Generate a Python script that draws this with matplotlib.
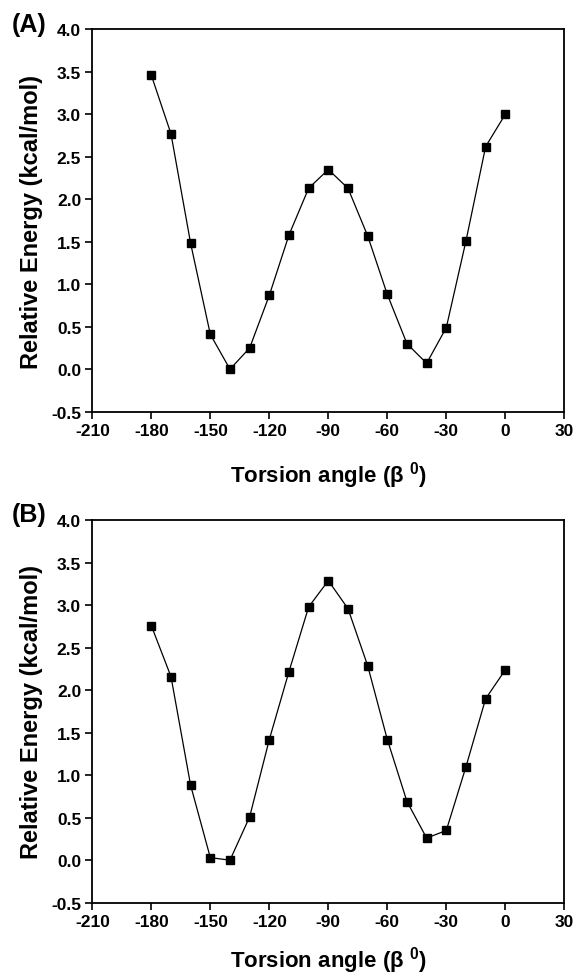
import numpy as np
import matplotlib
matplotlib.use('Agg')
from matplotlib import pyplot as plt

plt.rcParams['font.family'] = ['Liberation Sans', 'DejaVu Sans']
plt.rcParams['font.weight'] = 'bold'
plt.rcParams['mathtext.fontset'] = 'custom'
plt.rcParams['mathtext.bf'] = 'Liberation Sans:bold'
plt.rcParams['mathtext.rm'] = 'Liberation Sans:bold'

angle = [-180, -170, -160, -150, -140, -130, -120, -110, -100, -90,
         -80, -70, -60, -50, -40, -30, -20, -10, 0]

energy_a = [3.46, 2.77, 1.48, 0.41, 0.00, 0.25, 0.87, 1.58, 2.13, 2.35,
            2.13, 1.57, 0.88, 0.30, 0.07, 0.49, 1.51, 2.62, 3.00]
energy_b = [2.76, 2.16, 0.88, 0.03, 0.00, 0.51, 1.42, 2.22, 2.98, 3.29,
            2.96, 2.29, 1.42, 0.69, 0.26, 0.35, 1.10, 1.90, 2.24]

xticks = [-210, -180, -150, -120, -90, -60, -30, 0, 30]
yticks = [-0.5, 0.0, 0.5, 1.0, 1.5, 2.0, 2.5, 3.0, 3.5, 4.0]

fig = plt.figure(figsize=(5.77, 9.78), dpi=100)
ax_a = fig.add_axes([0.160, 0.578, 0.818, 0.391])
ax_b = fig.add_axes([0.160, 0.076, 0.818, 0.391])


def draw_panel(ax, y, tag, tag_y, xpad):
    ax.plot(angle, y, color='black', lw=0.9, marker='s', ms=5.8,
            mfc='black', mec='black')
    ax.set_xlim(-210, 30)
    ax.set_ylim(-0.5, 4.0)
    ax.set_xticks(xticks)
    ax.set_yticks(yticks)
    ax.set_xticklabels([str(t) for t in xticks])
    ax.set_yticklabels(['%.1f' % t for t in yticks])
    ax.tick_params(direction='out', length=5, width=1.2, labelsize=12.5,
                   pad=3, top=False, right=False)
    for s in ax.spines.values():
        s.set_linewidth(1.3)
    ax.set_ylabel('Relative Energy (kcal/mol)', fontsize=17, fontweight='bold',
                  labelpad=6)
    ax.set_xlabel(r'Torsion angle (β $^{\mathbf{0}}$)', fontsize=16,
                  fontweight='bold', labelpad=xpad)
    fig.text(0.02, tag_y, tag, fontsize=18, fontweight='bold',
             ha='left', va='center')


draw_panel(ax_a, energy_a, '(A)', 0.974, 15)
draw_panel(ax_b, energy_b, '(B)', 0.473, 11)

fig.savefig('out.png', dpi=100)
